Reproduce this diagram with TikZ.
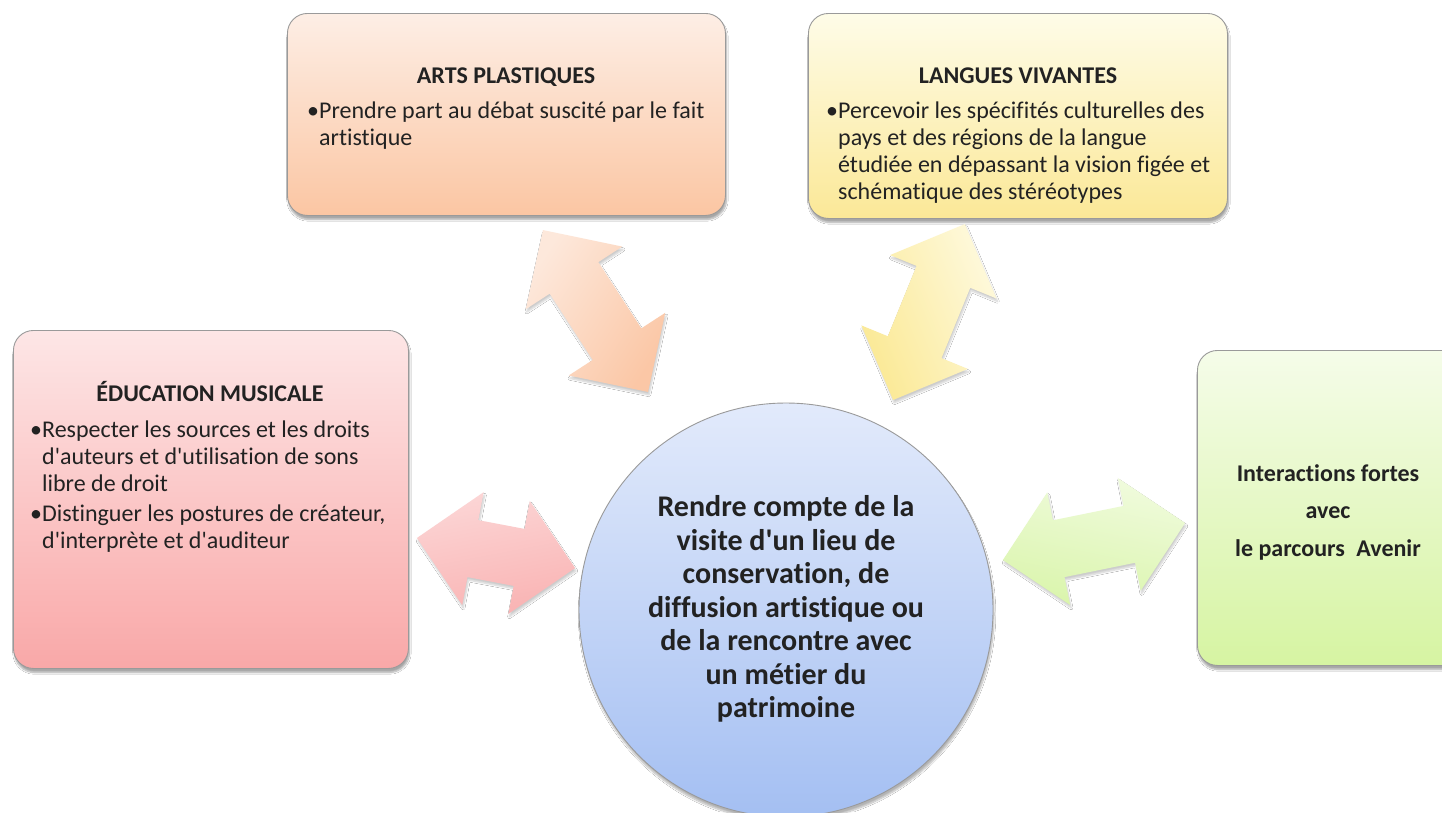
\documentclass[tikz,border=0pt]{standalone}
\usepackage{fontspec}
\newfontfamily\carl{Carlito}[Ligatures={NoCommon,NoRequired,NoContextual}, Contextuals=NoAlternate]
\usetikzlibrary{shadows.blur}
\definecolor{txt}{HTML}{222222}
\definecolor{boxline}{HTML}{9A9A9A}
\definecolor{artsT}{HTML}{FDEEE5}\definecolor{artsB}{HTML}{FBC6A3}
\definecolor{langT}{HTML}{FEFCE8}\definecolor{langB}{HTML}{FBE897}
\definecolor{eduT}{HTML}{FDE6E6}\definecolor{eduB}{HTML}{F9A8A8}
\definecolor{grnT}{HTML}{F5FCE9}\definecolor{grnB}{HTML}{D6F4A2}
\definecolor{cirT}{HTML}{E2EAFB}\definecolor{cirB}{HTML}{A4BFF2}
\definecolor{aOrT}{HTML}{FDE8DB}\definecolor{aOrB}{HTML}{FBC7A6}
\definecolor{aYeT}{HTML}{FEF9DC}\definecolor{aYeB}{HTML}{FBE995}
\definecolor{aReT}{HTML}{FCD6D6}\definecolor{aReB}{HTML}{F9B3B3}
\definecolor{aGrT}{HTML}{F0FBDD}\definecolor{aGrB}{HTML}{DAF5AC}
\newcommand\blt{\strut•}
\newcommand\ind{\phantom{•}}
% #1 centre, #2 angle, #3 length, #4 top colour, #5 bottom colour, #6 counter angle
\newcommand\dblarr[6]{%
  \begin{scope}[shift={#1}, rotate=#2]
    \path[arrowshape, top color=#4, bottom color=#5, shading angle=#6]
      (-#3/2,0) -- (-#3/2+57,57.5) -- (-#3/2+57,29) -- (#3/2-57,29)
      -- (#3/2-57,57.5) -- (#3/2,0) -- (#3/2-57,-57.5) -- (#3/2-57,-29)
      -- (-#3/2+57,-29) -- (-#3/2+57,-57.5) -- cycle;
  \end{scope}}
\tikzset{
  box/.style={draw=boxline, line width=0.9pt, rounded corners=20pt, anchor=north west,
    inner sep=0pt, blur shadow={shadow xshift=1pt, shadow yshift=-4pt, shadow blur steps=8, shadow opacity=35}},
  arrowshape/.style={blur shadow={shadow xshift=1pt, shadow yshift=-3pt, shadow blur steps=6, shadow opacity=20}},
  title/.style={anchor=base, inner sep=0pt, text=txt, font=\carl\bfseries\fontsize{24}{27}\selectfont},
  body/.style={anchor=north west, inner sep=0pt, align=left, text=txt, font=\carl\fontsize{24}{27}\selectfont},
  ctext/.style={inner sep=0pt, align=center, text=txt, font=\carl\bfseries\fontsize{30}{33.5}\selectfont},
  gtext/.style={inner sep=0pt, align=center, text=txt, font=\carl\bfseries\fontsize{24}{37.5}\selectfont},
}
\begin{document}
\begin{tikzpicture}[x=1pt,y=1pt]
\useasboundingbox[fill=white] (0,0) rectangle (1442,-812);

% boxes
\node[box, top color=artsT, bottom color=artsB, minimum width=438pt, minimum height=202pt] (arts) at (287,-13) {};
\node[box, top color=langT, bottom color=langB, minimum width=419pt, minimum height=205pt] (lang) at (808,-13) {};
\node[box, top color=eduT, bottom color=eduB, minimum width=395pt, minimum height=338pt] (edu) at (13,-330) {};
\node[box, top color=grnT, bottom color=grnB, minimum width=280pt, minimum height=315pt] (grn) at (1197,-350) {};

% centre circle
\node[circle, draw=boxline, line width=0.9pt, top color=cirT, bottom color=cirB, minimum size=414pt, inner sep=0pt,
  blur shadow={shadow xshift=1pt, shadow yshift=-4pt, shadow blur steps=8, shadow opacity=30}] (ctr) at (786,-610) {};

% block arrows
\dblarr{(595.5,-311)}{-57}{193}{aOrT}{aOrB}{57}
\dblarr{(929,-312)}{67.8}{190}{aYeT}{aYeB}{-67.8}
\dblarr{(496,-553)}{-10.75}{161}{aReT}{aReB}{10.75}
\dblarr{(1094,-541.5)}{11.5}{186}{aGrT}{aGrB}{-11.5}

% texts
\node[title] (artsT) at (506,-83) {ARTS PLASTIQUES};
\node[body] (artsB) at (307,-99) {\blt Prendre part au débat suscité par le fait\\\ind artistique};

\node[title] (langTi) at (1018,-83) {LANGUES VIVANTES};
\node[body] (langBo) at (826,-99) {\blt Percevoir les spécifités culturelles des\\\ind pays et des régions de la langue\\\ind étudiée en dépassant la vision figée et\\\ind schématique des stéréotypes};

\node[title] (eduTi) at (210,-401) {ÉDUCATION MUSICALE};
\node[body] (eduBo) at (30,-418) {\blt Respecter les sources et les droits\\\ind d'auteurs et d'utilisation de sons\\\ind libre de droit\\[3pt]\blt Distinguer les postures de créateur,\\\ind d'interprète et d'auditeur};

\node[gtext] (grnTx) at (1328,-512) {Interactions fortes\\avec\\le parcours\hspace{0.25em} Avenir};

\node[ctext] (ctrTx) at (786,-609) {Rendre compte de la\\visite d'un lieu de\\conservation, de\\diffusion artistique ou\\de la rencontre avec\\un métier du\\patrimoine};
\end{tikzpicture}
\end{document}
